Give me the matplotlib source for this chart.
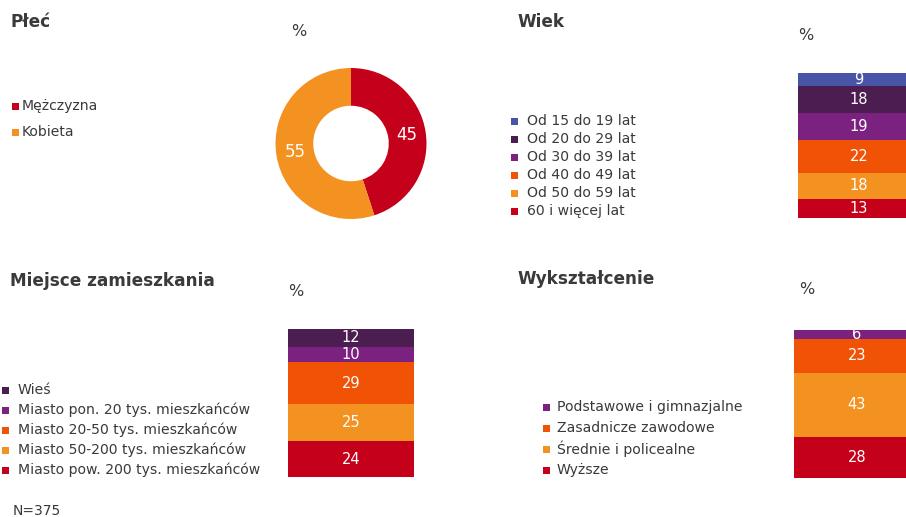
import matplotlib
matplotlib.use("Agg")
import matplotlib.pyplot as plt
from matplotlib.patches import Rectangle
import numpy as np

# ---------------- data ----------------
gender_labels = ["Mężczyzna", "Kobieta"]
gender_values = [45, 55]

age_labels = ["Od 15 do 19 lat", "Od 20 do 29 lat", "Od 30 do 39 lat",
              "Od 40 do 49 lat", "Od 50 do 59 lat", "60 i więcej lat"]
age_values = [9, 18, 19, 22, 18, 13]

place_labels = ["Wieś", "Miasto pon. 20 tys. mieszkańców", "Miasto 20-50 tys. mieszkańców",
                "Miasto 50-200 tys. mieszkańców", "Miasto pow. 200 tys. mieszkańców"]
place_values = [12, 10, 29, 25, 24]

edu_labels = ["Podstawowe i gimnazjalne", "Zasadnicze zawodowe",
              "Średnie i policealne", "Wyższe"]
edu_values = [6, 23, 43, 28]

# ---------------- style ----------------
RED = "#C5001A"
ORANGE = "#F39220"
ORANGE_RED = "#F05206"
PURPLE = "#7B2281"
DARK_PURPLE = "#4B1D51"
BLUE = "#4855A6"
TXT = "#3a3a3a"

gender_colors = [RED, ORANGE]
age_colors = [BLUE, DARK_PURPLE, PURPLE, ORANGE_RED, ORANGE, RED]
place_colors = [DARK_PURPLE, PURPLE, ORANGE_RED, ORANGE, RED]
edu_colors = [PURPLE, ORANGE_RED, ORANGE, RED]

plt.rcParams["font.family"] = ["DejaVu Sans"]

W, H = 906, 517
fig = plt.figure(figsize=(W / 100, H / 100), dpi=100)


def fx(px):
    return px / W


def fy(py):
    return 1 - py / H


def add_axes_px(left, top, right, bottom):
    return fig.add_axes([fx(left), fy(bottom), fx(right - left), (bottom - top) / H])


def title(x, y, s):
    fig.text(fx(x), fy(y), s, fontsize=12.2, fontweight="bold", color=TXT,
             ha="left", va="center")


def pct(x, y):
    fig.text(fx(x), fy(y), "%", fontsize=11.5, color=TXT, ha="center", va="center")


def legend(x_marker, x_text, y0, dy, labels, colors, size=7):
    for i, (lab, col) in enumerate(zip(labels, colors)):
        y = y0 + i * dy
        fig.add_artist(Rectangle((fx(x_marker), fy(y + size / 2)), fx(size), size / H,
                                 transform=fig.transFigure, facecolor=col,
                                 edgecolor="none"))
        fig.text(fx(x_text), fy(y), lab, fontsize=10.1, color=TXT,
                 ha="left", va="center")


def stacked(ax, labels, values, colors, barw_frac_visible):
    # stack from bottom: last category at bottom
    bottom = 0
    for lab, val, col in reversed(list(zip(labels, values, colors))):
        ax.bar(0.5, val, width=1.0, bottom=bottom, color=col, edgecolor="none")
        ax.text(0.5, bottom + val / 2, f"{val}", color="white", fontsize=10.5,
                ha="center", va="center")
        bottom += val
    ax.set_ylim(0, bottom)
    ax.set_xlim(0, barw_frac_visible)
    ax.axis("off")


# ---------------- Płeć (donut) ----------------
title(10, 22, "Płeć")
pct(299, 32)
legend(12, 22, 106, 26, gender_labels, gender_colors)
cx, cy, r = 351, 143.5, 75.5
axp = add_axes_px(cx - r, cy - r, cx + r, cy + r)
axp.pie(gender_values, colors=gender_colors, startangle=90,
        counterclock=False, radius=1.0,
        wedgeprops=dict(width=0.5, edgecolor="none"))
angle = 90.0
for val in gender_values:
    mid = np.deg2rad(angle - val / 100 * 360 / 2)
    axp.text(0.75 * np.cos(mid), 0.75 * np.sin(mid), f"{val}", color="white",
             fontsize=12, ha="center", va="center")
    angle -= val / 100 * 360
axp.set_xlim(-1, 1)
axp.set_ylim(-1, 1)
axp.set_aspect("equal")

# ---------------- Wiek ----------------
title(517, 22, "Wiek")
pct(806, 36)
legend(511, 527, 121, 18, age_labels, age_colors)
axw = add_axes_px(798, 73, 906, 218)
stacked(axw, age_labels, age_values, age_colors, 108 / 122)

# ---------------- Miejsce zamieszkania ----------------
title(10, 281, "Miejsce zamieszkania")
pct(296, 291)
legend(2, 18, 390, 20, place_labels, place_colors)
axm = add_axes_px(288, 329, 414, 477)
stacked(axm, place_labels, place_values, place_colors, 1.0)

# ---------------- Wykształcenie ----------------
title(517, 279, "Wykształcenie")
pct(807, 289)
legend(543, 557, 407, 21, edu_labels, edu_colors)
axe = add_axes_px(794, 330, 906, 478)
stacked(axe, edu_labels, edu_values, edu_colors, 112 / 126)

# ---------------- footnote ----------------
fig.text(fx(13), fy(511), "N=375", fontsize=10, color=TXT, ha="left", va="center")

fig.savefig("out.png", dpi=100, facecolor="white")
